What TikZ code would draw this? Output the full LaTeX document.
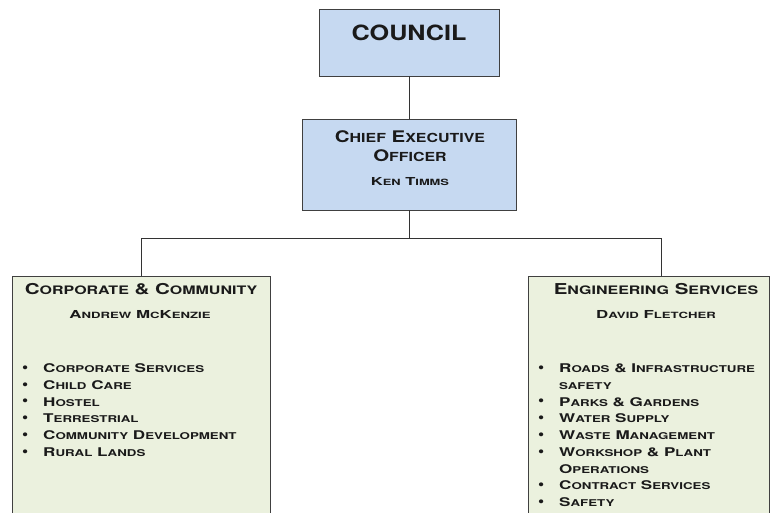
\documentclass[tikz,border=0pt]{standalone}
\usepackage{fontspec}
\usepackage{graphicx}
\setmainfont{TeX Gyre Heros}[FakeStretch=1.12]
\newfontfamily\scf{TeX Gyre Heros}[Scale=0.78,FakeStretch=1.12]
\newcommand\sm[1]{{\scf #1}}
\newcommand\li[1]{\scalebox{1.27}[1]{#1}}
\newcommand\bul{\raisebox{0.3pt}{\scalebox{1.3}{\textbullet}}}
\definecolor{boxblue}{HTML}{C6D9F1}
\definecolor{boxgreen}{HTML}{EBF1DE}
\definecolor{edge}{HTML}{404040}
\definecolor{ink}{HTML}{1A1A1A}
\tikzset{
  orgbox/.style={draw=edge, line width=0.8pt, inner sep=0pt},
  bluebox/.style={orgbox, fill=boxblue},
  greenbox/.style={orgbox, fill=boxgreen},
  link/.style={draw=black!80, line width=0.8pt},
  txt/.style={text=ink, inner sep=0pt, font=\bfseries},
  listtxt/.style={txt, anchor=north west, align=left, font=\bfseries\fontsize{12}{16.7}\selectfont}
}
\begin{document}
\begin{tikzpicture}[x=1pt,y=-1pt]
\useasboundingbox (0,0) rectangle (771,513);
\clip (0,0) rectangle (771,513);
% boxes
\node[bluebox, minimum width=180pt, minimum height=67pt] (council) at (409,42.5) {};
\node[bluebox, minimum width=214pt, minimum height=91pt] (ceo) at (409,164.5) {};
\node[greenbox, minimum width=258pt, minimum height=260pt] (corp) at (141,406) {};
\node[greenbox, minimum width=241pt, minimum height=260pt] (eng) at (648.5,406) {};
% connectors
\coordinate (split) at (409,238);
\coordinate (engtop) at (661,276);
\draw[link] (council.south) -- (ceo.north);
\draw[link] (ceo.south) -- (split) -| (corp.north);
\draw[link] (split) -| (engtop);
% texts
\node[txt, font=\bfseries\fontsize{21}{24}\selectfont] (tcouncil) at (409,33) {\scalebox{1.07}[1]{COUNCIL}};
\node[txt, align=center, font=\bfseries\fontsize{16}{19}\selectfont] (tceo) at (410,146) {\scalebox{1.14}[1]{C\sm{HIEF} E\sm{XECUTIVE}}\\\scalebox{1.14}[1]{O\sm{FFICER}}};
\node[txt, font=\bfseries\fontsize{11}{13}\selectfont] (tken) at (410,182) {\scalebox{1.34}[1]{K\sm{EN} T\sm{IMMS}}};
\node[txt, font=\bfseries\fontsize{15}{18}\selectfont] (tcorp) at (141,289) {\scalebox{1.22}[1]{C\sm{ORPORATE} \& C\sm{OMMUNITY}}};
\node[txt, font=\bfseries\fontsize{11}{13}\selectfont] (tandrew) at (140,315) {\scalebox{1.37}[1]{A\sm{NDREW} M\sm{C}K\sm{ENZIE}}};
\node[txt, font=\bfseries\fontsize{15}{18}\selectfont] (teng) at (656,289) {\scalebox{1.22}[1]{E\sm{NGINEERING} S\sm{ERVICES}}};
\node[txt, font=\bfseries\fontsize{11}{13}\selectfont] (tdavid) at (656,315) {\scalebox{1.37}[1]{D\sm{AVID} F\sm{LETCHER}}};
\node[listtxt] (corplist) at (22,361) {%
\begin{tabular}{@{}p{21pt}@{}l@{}}
\bul & \li{C\sm{ORPORATE} S\sm{ERVICES}}\\
\bul & \li{C\sm{HILD} C\sm{ARE}}\\
\bul & \li{H\sm{OSTEL}}\\
\bul & \li{T\sm{ERRESTRIAL}}\\
\bul & \li{C\sm{OMMUNITY} D\sm{EVELOPMENT}}\\
\bul & \li{R\sm{URAL} L\sm{ANDS}}
\end{tabular}};
\node[listtxt] (englist) at (538,361) {%
\begin{tabular}{@{}p{21pt}@{}l@{}}
\bul & \li{R\sm{OADS} \& I\sm{NFRASTRUCTURE}}\\
 & \li{\sm{SAFETY}}\\
\bul & \li{P\sm{ARKS} \& G\sm{ARDENS}}\\
\bul & \li{W\sm{ATER} S\sm{UPPLY}}\\
\bul & \li{W\sm{ASTE} M\sm{ANAGEMENT}}\\
\bul & \li{W\sm{ORKSHOP} \& P\sm{LANT}}\\
 & \li{O\sm{PERATIONS}}\\
\bul & \li{C\sm{ONTRACT} S\sm{ERVICES}}\\
\bul & \li{S\sm{AFETY}}
\end{tabular}};
\end{tikzpicture}
\end{document}
